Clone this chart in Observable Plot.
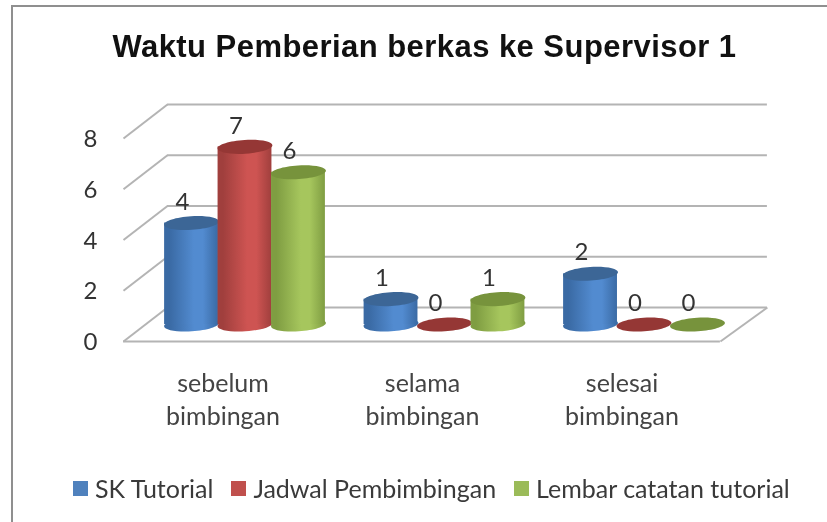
<!DOCTYPE html>
<html>
<head>
<meta charset="utf-8">
<script src="https://cdn.jsdelivr.net/npm/d3@7"></script>
<script src="https://cdn.jsdelivr.net/npm/@observablehq/plot@0.6"></script>
<style>
html,body{margin:0;padding:0;background:#fff;}
#wrap{position:relative;width:827px;height:522px;overflow:hidden;filter:blur(0.7px);background:#fff;}
#frame{position:absolute;left:11px;top:5px;width:840px;height:540px;border:2px solid #8f8f8f;box-sizing:border-box;}
#title{position:absolute;left:0;width:849px;top:29px;text-align:center;font:bold 31px "Liberation Sans",sans-serif;letter-spacing:0.45px;color:#111;white-space:nowrap;}
#legend{position:absolute;left:73px;top:473px;font:25px Lato,sans-serif;color:#3a3a3a;display:flex;white-space:nowrap;}
#legend span.s{display:inline-block;width:15px;height:15px;margin-right:7px;}
#legend div{display:flex;align-items:center;margin-right:18px;}
svg{position:absolute;left:0;top:0;}
</style>
</head>
<body>
<div id="wrap">
<div id="frame"></div>
<div id="title"></div>
<div id="chart"></div>
<div id="legend"></div>
</div>
<script>
const titleText = "Waktu Pemberian berkas ke Supervisor 1";
const categories = ["sebelum\nbimbingan", "selama\nbimbingan", "selesai\nbimbingan"];
const seriesNames = ["SK Tutorial", "Jadwal Pembimbingan", "Lembar catatan tutorial"];
const skTutorial = [4, 1, 2];
const jadwalPembimbingan = [7, 0, 0];
const lembarCatatan = [6, 1, 0];
const yTicks = [0, 2, 4, 6, 8];
const swatch = ["#4f81bd", "#c0504d", "#9bbb59"];
const topColor = ["#3c6696", "#953735", "#77933c"];
const edgeColor = ["#3a6aa4", "#a03f3d", "#7f9d42"];
const midColor = ["#528bd0", "#ce5452", "#a6c65d"];

const seriesStep = 0.268, halfBar = 0.135;
const wallLeft = -0.609, wallRight = 2.383, depthY = 1.34;

const table = [];
[skTutorial, jadwalPembimbingan, lembarCatatan].forEach((vals, s) =>
  vals.forEach((v, g) => table.push({s, g, v, pos: g + (s - 1) * seriesStep})));
const catTable = categories.map((c, g) => ({c, g}));

// Tilted ellipse symbol for the cylinder caps
const ellipse = {
  draw(ctx, size) {
    const rx = Math.sqrt(size / Math.PI), ry = rx * 0.25, a = -3.5 * Math.PI / 180;
    const k = 0.5523, c = Math.cos(a), n = Math.sin(a);
    const P = (x, y) => [x * c - y * n, x * n + y * c];
    ctx.moveTo(...P(rx, 0));
    ctx.bezierCurveTo(...P(rx, k * ry), ...P(k * rx, ry), ...P(0, ry));
    ctx.bezierCurveTo(...P(-k * rx, ry), ...P(-rx, k * ry), ...P(-rx, 0));
    ctx.bezierCurveTo(...P(-rx, -k * ry), ...P(-k * rx, -ry), ...P(0, -ry));
    ctx.bezierCurveTo(...P(k * rx, -ry), ...P(rx, -k * ry), ...P(rx, 0));
    ctx.closePath();
  }
};

const defs = () => {
  const d = d3.create("svg:defs");
  swatch.forEach((_, i) => {
    const g = d.append("linearGradient").attr("id", "cyl" + i);
    [[0, edgeColor[i]], [0.1, edgeColor[i]], [0.55, midColor[i]], [0.72, midColor[i]], [1, edgeColor[i]]]
      .forEach(([o, col]) => g.append("stop").attr("offset", o).attr("stop-color", col));
  });
  return d.node();
};

const barDy = -17, capR = 27.5;
const marks = [
  defs,
  // back wall and side wall
  Plot.ruleY(yTicks, {y: d => d, x1: wallLeft, x2: wallRight + 0.015, dx: 44, dy: -34, stroke: "#b4b4b4", strokeWidth: 2}),
  Plot.link(yTicks, {x1: wallLeft, x2: wallLeft + 0.2205, y1: d => d, y2: d => d + depthY, stroke: "#b4b4b4", strokeWidth: 2}),
  Plot.link([0], {x1: wallRight, x2: wallRight + 0.2355, y1: 0, y2: depthY, stroke: "#b4b4b4", strokeWidth: 2}),
  Plot.ruleY([0], {x1: wallLeft, x2: wallRight, stroke: "#b4b4b4", strokeWidth: 2}),
  // axis labels
  Plot.text(yTicks, {x: wallLeft, y: d => d, text: d => String(d), dx: -33, dy: 1, fontSize: 24, fill: "#333", fontFamily: "Lato"}),
  Plot.text(catTable, {x: "g", y: 0, text: "c", dx: -22, dy: 56, fontSize: 25, lineHeight: 1.32, fill: "#444", fontFamily: "Lato", textAnchor: "middle"})
];
// cylinders, drawn left to right
swatch.forEach((_, s) => {
  const data = table.filter(d => d.s === s);
  const bars = data.filter(d => d.v > 0);
  marks.push(
    Plot.dot(bars, {x: "pos", y: 0, r: capR, symbol: ellipse, fill: `url(#cyl${s})`, stroke: "none", dy: barDy}),
    Plot.rect(bars, {x1: d => d.pos - halfBar, x2: d => d.pos + halfBar, y1: 0, y2: "v", fill: `url(#cyl${s})`, dy: barDy}),
    Plot.dot(data, {x: "pos", y: "v", r: capR, symbol: ellipse, fill: topColor[s], stroke: "none", dy: barDy})
  );
});
marks.push(
  Plot.text(table, {x: "pos", y: "v", text: d => String(d.v), dx: -9, dy: barDy - 21, fontSize: 24, fill: "#333", fontFamily: "Lato"})
);

const plot = Plot.plot({
  width: 827, height: 522,
  margin: 0,
  x: {type: "linear", domain: [0, 2], range: [244.5, 643.5], axis: null},
  y: {type: "linear", domain: [0, 8], range: [341, 138], axis: null},
  style: {background: "transparent", overflow: "visible"},
  marks
});
document.getElementById("chart").append(plot);
document.getElementById("title").textContent = titleText;
const lg = document.getElementById("legend");
seriesNames.forEach((n, i) => {
  const it = document.createElement("div");
  const sw = document.createElement("span");
  sw.className = "s"; sw.style.background = swatch[i];
  it.append(sw, document.createTextNode(n));
  lg.append(it);
});
</script>
</body>
</html>
